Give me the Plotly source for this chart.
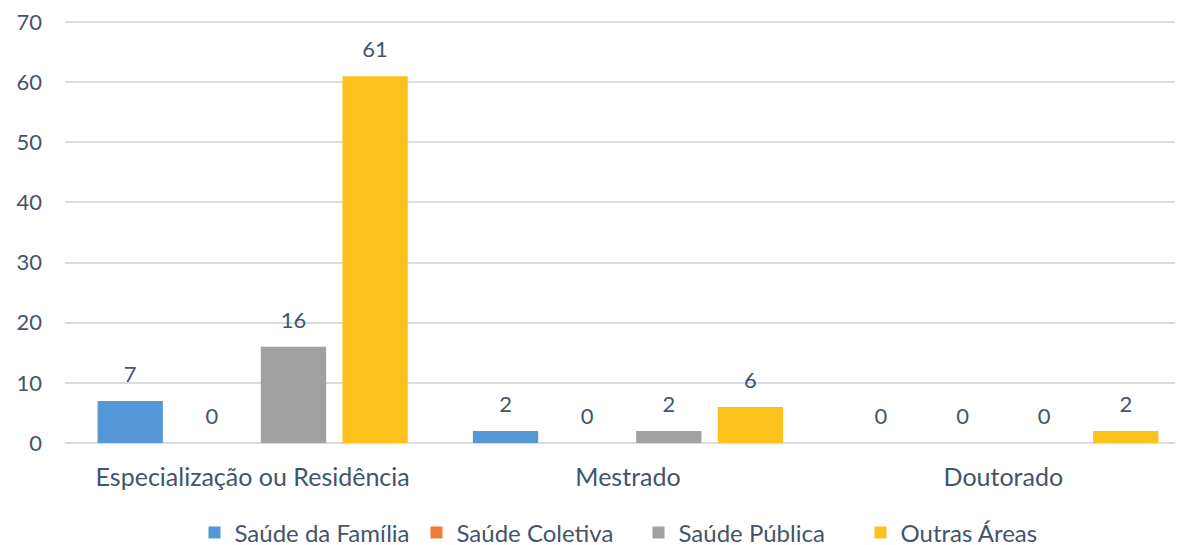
import plotly.graph_objects as go

categories = ["Especialização ou Residência", "Mestrado", "Doutorado"]
series_names = ["Saúde da Família", "Saúde Coletiva", "Saúde Pública", "Outras Áreas"]
saude_familia = [7, 2, 0]
saude_coletiva = [0, 0, 0]
saude_publica = [16, 2, 0]
outras_areas = [61, 6, 2]
y_ticks = [0, 10, 20, 30, 40, 50, 60, 70]

values = [saude_familia, saude_coletiva, saude_publica, outras_areas]
colors = ["#5597d7", "#ed7d31", "#a1a1a1", "#fcc11c"]

FONT = "Lato, Carlito, 'Open Sans', sans-serif"
TXT = "#44546a"

fig = go.Figure()
for name, vals, c in zip(series_names, values, colors):
    fig.add_trace(go.Bar(
        x=categories, y=vals, name=name,
        marker=dict(color=c, line=dict(width=0)),
        hoverinfo="x+y+name",
    ))
# value labels, grouped like the bars
for name, vals in zip(series_names, values):
    fig.add_trace(go.Scatter(
        x=categories, y=vals, mode="markers+text", text=[str(v) for v in vals],
        textposition="top center", textfont=dict(size=22, color=TXT, family=FONT),
        marker=dict(size=20, opacity=0), showlegend=False, hoverinfo="skip",
        cliponaxis=False, name=name,
    ))

fig.update_layout(
    width=1183, height=545,
    paper_bgcolor="white", plot_bgcolor="white",
    margin=dict(l=57, r=0, t=12, b=110, autoexpand=False),
    barmode="group", bargap=0.13, bargroupgap=0.2,
    scattermode="group", scattergap=0.13,
    font=dict(family=FONT, size=22, color=TXT),
    legend=dict(orientation="h", x=0.115, xanchor="left", yref="container",
                y=0.037, yanchor="middle", entrywidth=177, entrywidthmode="pixels",
                font=dict(size=24, color=TXT, family=FONT), itemwidth=30,
                traceorder="normal", tracegroupgap=0),
    showlegend=True,
)
fig.update_xaxes(range=[-0.5, 2.5], showgrid=False, showline=False, zeroline=False,
                 automargin=False,
                 tickfont=dict(size=25, color=TXT), ticks="", ticklabelstandoff=17)
fig.update_yaxes(range=[0, 70.35], tickvals=y_ticks, showgrid=True, gridcolor="#d9dde3", gridwidth=2,
                 zeroline=True, zerolinecolor="#d9dde3", zerolinewidth=2, showline=False,
                 automargin=False, ticklabeloverflow="allow",
                 tickfont=dict(size=22, color=TXT), ticks="", ticklabelstandoff=22)

fig.write_html("out.html")
